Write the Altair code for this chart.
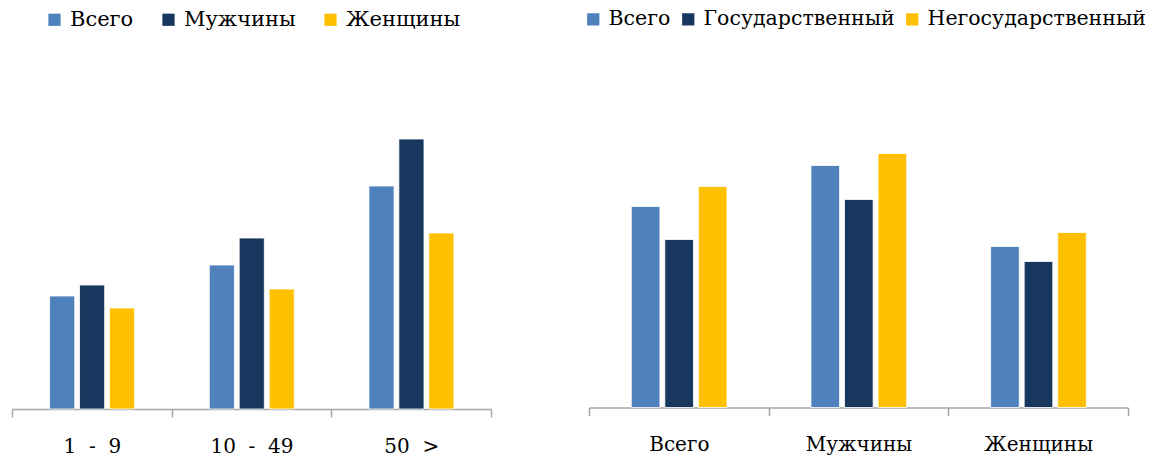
import altair as alt
import pandas as pd

# Left panel: by enterprise size
size_groups = ["1\u00a0\u00a0-\u00a0\u00a09", "10\u00a0\u00a0-\u00a0\u00a049", "50\u00a0\u00a0>"]
sex_series = ["Всего", "Мужчины", "Женщины"]
left_total = [113, 144, 223]
left_men = [124, 171, 270]
left_women = [101, 120, 176]

# Right panel: by ownership
sex_groups = ["Всего", "Мужчины", "Женщины"]
own_series = ["Всего", "Государственный", "Негосударственный"]
right_total = [201, 242, 161]
right_state = [168, 208, 146]
right_private = [221, 254, 175]

colors = ["#4F81BD", "#17375E", "#FFC000"]
FONT = "DejaVu Serif"

left_rows = []
for i, g in enumerate(size_groups):
    for s, vals in zip(sex_series, [left_total, left_men, left_women]):
        left_rows.append({"group": g, "series": s, "value": vals[i]})
right_rows = []
for i, g in enumerate(sex_groups):
    for s, vals in zip(own_series, [right_total, right_state, right_private]):
        right_rows.append({"group": g, "series": s, "value": vals[i]})

left_df = pd.DataFrame(left_rows)
right_df = pd.DataFrame(right_rows)

LH = 400
RH = 398.5


def panel(df, groups, series, width, height, pin, orange, legx, legpad, legfs):
    return alt.Chart(df).mark_bar(stroke="white", strokeWidth=0.8).encode(
        x=alt.X("group:N", sort=groups, title=None,
                scale=alt.Scale(paddingInner=0, paddingOuter=0),
                axis=alt.Axis(labelAngle=0, labelFont=FONT, labelFontSize=20,
                              labelColor="#000000", domainColor="#A6A6A6",
                              tickColor="#A6A6A6", tickSize=8, tickBand="extent",
                              labelPadding=19, domainWidth=1.5, tickWidth=1.5)),
        xOffset=alt.XOffset("series:N", sort=series,
                            scale=alt.Scale(paddingInner=pin, paddingOuter=0,
                                            range=orange)),
        y=alt.Y("value:Q", axis=None,
                scale=alt.Scale(domain=[0, height], nice=False, zero=True)),
        color=alt.Color("series:N", sort=series,
                        scale=alt.Scale(domain=series, range=colors),
                        legend=alt.Legend(orient="none", legendX=legx, legendY=0,
                                          direction="horizontal", title=None,
                                          symbolType="square", symbolSize=150,
                                          symbolStrokeWidth=0, labelLimit=0,
                                          labelFont=FONT, labelFontSize=legfs,
                                          labelColor="#000000", labelOffset=5,
                                          columnPadding=legpad)),
    ).properties(width=width, height=height)


left = panel(left_df, size_groups, sex_series, 479, LH, 0.16, [37.6, 122.6], 32, 24, 21)
right = panel(right_df, sex_groups, own_series, 539, RH, 0.147, [42.3, 138], -6, 7, 20.5)

chart = alt.hconcat(left, right, spacing=91).resolve_scale(
    color="independent", y="independent", xOffset="independent"
).resolve_legend(color="independent").configure_view(stroke=None).properties(
    padding={"left": 3, "top": 1, "right": 0, "bottom": 0}
)

chart.save("out.html", embed_options={"renderer": "svg", "actions": False})
